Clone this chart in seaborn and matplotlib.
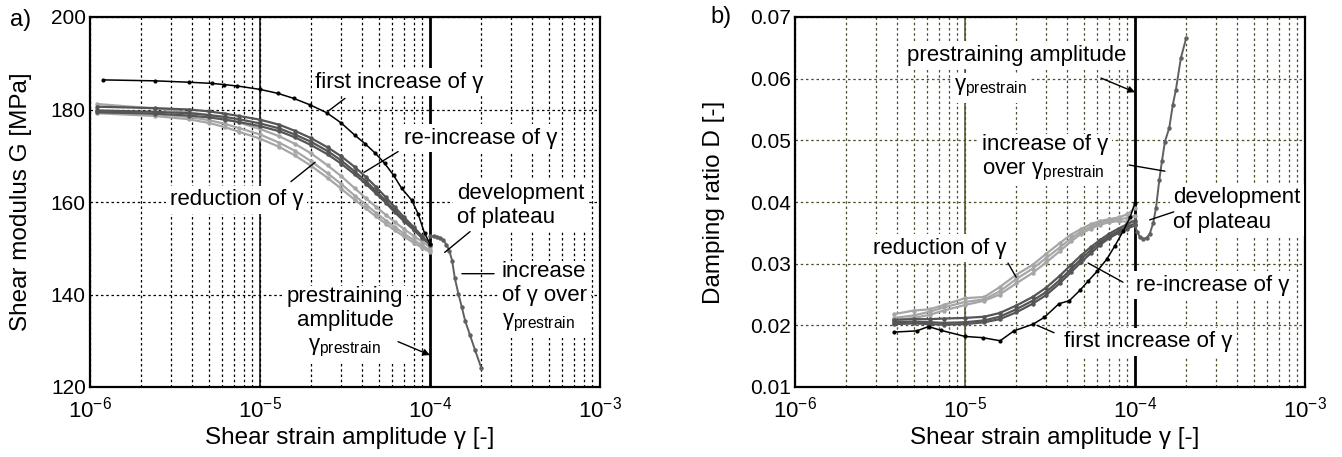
'''Shear modulus and damping ratio versus shear strain amplitude (prestrain test)'''
import numpy as np
import matplotlib
matplotlib.use('Agg')
import matplotlib.pyplot as plt
from matplotlib.ticker import LogLocator, FixedLocator, NullFormatter
import seaborn as sns

# ---- data ----
# a) shear modulus G [MPa]
strain_first_g = [1.2e-6, 2.4e-6, 3.8e-6, 5.2e-6, 6.1e-6, 7.3e-6, 1.0e-5, 1.27e-5,
                  1.58e-5, 1.97e-5, 2.47e-5, 3.0e-5, 3.6e-5, 4.15e-5, 4.75e-5,
                  5.4e-5, 6.1e-5, 6.8e-5, 7.8e-5, 8.5e-5, 9.3e-5, 1.0e-4]
g_first = [186.4, 186.2, 185.9, 185.65, 185.4, 185.1, 184.35, 183.5, 182.4, 181.0,
           179.3, 177.1, 174.5, 172.6, 170.6, 168.4, 165.8, 163.0, 160.4, 157.5,
           153.2, 151.0]

strain_band_g = [1.1e-6, 2.4e-6, 3.8e-6, 5.0e-6, 6.2e-6, 7.5e-6, 1.0e-5, 1.3e-5,
                 1.6e-5, 2.0e-5, 2.5e-5, 3.0e-5, 3.6e-5, 4.2e-5, 4.8e-5, 5.5e-5,
                 6.2e-5, 7.0e-5, 8.0e-5, 9.0e-5, 1.0e-4]
g_reinc = [
    [180.6, 180.3, 180.0, 179.6, 179.1, 178.6, 177.8, 176.7, 175.4, 173.8, 171.8,
     169.9, 167.6, 165.4, 163.3, 161.0, 158.9, 156.8, 154.6, 152.6, 151.0],
    [179.8, 179.5, 179.2, 178.8, 178.4, 177.9, 177.0, 175.9, 174.6, 173.0, 171.0,
     169.0, 166.6, 164.5, 162.4, 160.2, 158.2, 156.2, 154.2, 152.4, 150.9],
    [179.4, 179.1, 178.7, 178.3, 177.8, 177.3, 176.4, 175.3, 174.0, 172.3, 170.3,
     168.3, 166.0, 163.9, 161.9, 159.8, 157.8, 155.9, 154.0, 152.2, 150.8],
]
g_reduction = [
    [181.2, 180.2, 179.4, 178.8, 178.0, 177.2, 175.8, 174.2, 172.6, 170.5, 167.9,
     165.6, 163.0, 160.8, 159.0, 157.2, 155.7, 154.2, 152.7, 151.4, 150.3],
    [179.6, 179.0, 178.4, 177.7, 176.9, 176.0, 174.6, 172.8, 171.1, 168.8, 166.2,
     163.9, 161.4, 159.4, 157.7, 156.0, 154.6, 153.2, 151.8, 150.6, 149.6],
    [179.2, 178.6, 177.9, 177.1, 176.2, 175.2, 173.7, 171.9, 170.1, 167.8, 165.2,
     162.9, 160.5, 158.6, 156.9, 155.3, 153.9, 152.6, 151.2, 150.1, 149.2],
]
strain_over_g = [1.0e-4, 1.05e-4, 1.1e-4, 1.15e-4, 1.2e-4, 1.25e-4, 1.3e-4, 1.35e-4,
                 1.4e-4, 1.47e-4, 1.54e-4, 1.61e-4, 1.72e-4, 1.84e-4, 2.0e-4]
g_over = [152.6, 152.6, 152.5, 152.2, 151.7, 150.8, 149.4, 147.3, 143.5, 140.1,
          137.2, 134.3, 131.2, 128.0, 124.2]

# b) damping ratio D [-]
strain_first_d = [3.8e-6, 5.2e-6, 6.1e-6, 7.2e-6, 1.0e-5, 1.27e-5, 1.61e-5, 1.94e-5,
                  2.52e-5, 2.93e-5, 3.57e-5, 4.11e-5, 4.75e-5, 5.31e-5, 6.0e-5,
                  6.81e-5, 7.62e-5, 8.53e-5, 9.35e-5, 1.0e-4]
d_first = [0.0189, 0.0191, 0.0198, 0.0192, 0.0182, 0.0180, 0.0175, 0.0191, 0.0202,
           0.0213, 0.0235, 0.0240, 0.0257, 0.0272, 0.0288, 0.0307, 0.0329, 0.0353,
           0.0375, 0.0399]

strain_band_d = [3.8e-6, 5.0e-6, 6.2e-6, 7.5e-6, 1.0e-5, 1.3e-5, 1.6e-5, 2.0e-5,
                 2.5e-5, 3.0e-5, 3.6e-5, 4.2e-5, 4.8e-5, 5.5e-5, 6.2e-5, 7.0e-5,
                 8.0e-5, 9.0e-5, 1.0e-4]
d_reduction = [
    [0.0218, 0.0224, 0.0226, 0.0233, 0.0244, 0.0246, 0.0262, 0.0282, 0.0298, 0.0316,
     0.0333, 0.0347, 0.0356, 0.0364, 0.0369, 0.0372, 0.0375, 0.0380, 0.0390],
    [0.0212, 0.0216, 0.0222, 0.0229, 0.0238, 0.0242, 0.0255, 0.0275, 0.0292, 0.0309,
     0.0326, 0.0341, 0.0352, 0.0360, 0.0366, 0.0370, 0.0372, 0.0374, 0.0378],
    [0.0208, 0.0212, 0.0217, 0.0224, 0.0233, 0.0240, 0.0250, 0.0268, 0.0285, 0.0302,
     0.0320, 0.0336, 0.0348, 0.0357, 0.0363, 0.0367, 0.0369, 0.0368, 0.0370],
]
d_reinc = [
    [0.0209, 0.0210, 0.0210, 0.0211, 0.0212, 0.0214, 0.0220, 0.0232, 0.0246, 0.0261,
     0.0280, 0.0298, 0.0313, 0.0327, 0.0338, 0.0348, 0.0357, 0.0364, 0.0370],
    [0.0205, 0.0206, 0.0205, 0.0204, 0.0205, 0.0208, 0.0214, 0.0226, 0.0240, 0.0254,
     0.0273, 0.0291, 0.0307, 0.0322, 0.0334, 0.0344, 0.0353, 0.0360, 0.0365],
    [0.0202, 0.0203, 0.0202, 0.0201, 0.0202, 0.0205, 0.0210, 0.0221, 0.0235, 0.0249,
     0.0268, 0.0286, 0.0302, 0.0317, 0.0330, 0.0341, 0.0350, 0.0357, 0.0362],
]
strain_over_d = [1.0e-4, 1.03e-4, 1.07e-4, 1.12e-4, 1.17e-4, 1.22e-4, 1.28e-4, 1.33e-4,
                 1.39e-4, 1.44e-4, 1.50e-4, 1.59e-4, 1.67e-4, 1.74e-4, 1.86e-4, 2.0e-4]
d_over = [0.0362, 0.0352, 0.0343, 0.0340, 0.0342, 0.0348, 0.0366, 0.0391, 0.0436,
          0.0466, 0.0498, 0.0520, 0.0558, 0.0582, 0.0633, 0.0666]

xtick_vals = [1e-6, 1e-5, 1e-4, 1e-3]
xtick_labels = [r'$\mathregular{10^{-6}}$', r'$\mathregular{10^{-5}}$',
                r'$\mathregular{10^{-4}}$', r'$\mathregular{10^{-3}}$']
g_ticks = [120, 140, 160, 180, 200]
d_ticks = [0.01, 0.02, 0.03, 0.04, 0.05, 0.06, 0.07]
d_tick_labels = ['0.01', '0.02', '0.03', '0.04', '0.05', '0.06', '0.07']

PRE = r'γ$_{\mathregular{prestrain}}$'

# ---- style ----
sns.set_theme(style='white')
plt.rcParams['font.family'] = ['Liberation Sans', 'DejaVu Sans']
plt.rcParams['font.size'] = 15
plt.rcParams['text.color'] = 'black'
plt.rcParams['axes.labelcolor'] = 'black'
plt.rcParams['xtick.color'] = 'black'
plt.rcParams['ytick.color'] = 'black'

COL_FIRST = '#000000'
COL_REINC = '#555555'
COL_RED = '#a6a6a6'
COL_OVER = '#606060'

NOTE_SIZE = 16
LABEL_SIZE = 17.5


def curve(ax, x, y, color, lw=1.4, ms=3.2):
    sns.lineplot(x=x, y=y, ax=ax, color=color, linewidth=lw, marker='o',
                 markersize=ms, markeredgewidth=0, sort=False, estimator=None,
                 zorder=3)


def label(ax, txt, xy, ha='center'):
    ax.text(xy[0], xy[1], txt, ha=ha, va='center', fontsize=NOTE_SIZE, zorder=6,
            color='black', multialignment=ha,
            bbox=dict(facecolor='white', edgecolor='none', pad=2.5))


def leader(ax, p0, p1, arrow=False):
    style = '-|>' if arrow else '-'
    ax.annotate('', xy=p1, xytext=p0, zorder=7,
                arrowprops=dict(arrowstyle=style, color='black', lw=1.0,
                                mutation_scale=10, shrinkA=0, shrinkB=0))


def setup_axes(ax, grid_color):
    ax.set_xscale('log')
    ax.set_xlim(1e-6, 1e-3)
    ax.xaxis.set_major_locator(FixedLocator(xtick_vals))
    ax.set_xticklabels(xtick_labels)
    ax.xaxis.set_minor_locator(LogLocator(base=10, subs=np.arange(2, 10)))
    ax.xaxis.set_minor_formatter(NullFormatter())
    ax.grid(True, which='both', axis='x', color=grid_color, linestyle=(0, (2, 2.2)),
            linewidth=0.9)
    ax.grid(True, which='major', axis='y', color=grid_color, linestyle=(0, (2, 2.2)),
            linewidth=0.9)
    ax.set_axisbelow(True)
    ax.tick_params(axis='x', which='both', length=0, pad=7, labelsize=16)
    ax.tick_params(axis='y', which='both', direction='in', pad=3, labelsize=15)
    ax.tick_params(axis='y', which='major', length=4)
    ax.tick_params(axis='y', which='minor', length=3)
    for sp in ax.spines.values():
        sp.set_linewidth(1.6)
        sp.set_color('black')
    ax.axvline(1e-5, color=grid_color, lw=1.1, zorder=2)
    ax.axvline(1e-4, color='black', lw=2.0, zorder=2)


fig = plt.figure(figsize=(13.42, 4.57), dpi=100)
ax1 = fig.add_axes([90 / 1342, 70 / 457, 510 / 1342, 370 / 457])
ax2 = fig.add_axes([795 / 1342, 70 / 457, 510 / 1342, 370 / 457])

# ---- a) shear modulus ----
setup_axes(ax1, 'black')
ax1.set_ylim(120, 200)
ax1.yaxis.set_major_locator(FixedLocator(g_ticks))
ax1.yaxis.set_minor_locator(FixedLocator([130, 150, 170, 190]))

for g in g_reduction:
    curve(ax1, strain_band_g, g, COL_RED, lw=1.6)
for g in g_reinc:
    curve(ax1, strain_band_g, g, COL_REINC, lw=1.6)
curve(ax1, strain_over_g, g_over, COL_OVER, lw=1.4)
curve(ax1, strain_first_g, g_first, COL_FIRST, lw=1.1, ms=3.0)

label(ax1, 'first increase of γ', (6.6e-5, 185.9))
leader(ax1, (2.51e-5, 179.6), (3.16e-5, 182.4))
label(ax1, 're-increase of γ', (2.0e-4, 173.8))
leader(ax1, (4.09e-5, 166.4), (6.49e-5, 170.9))
label(ax1, 'reduction of γ', (7.3e-6, 160.5))
leader(ax1, (1.52e-5, 164.4), (2.11e-5, 168.6))
label(ax1, 'development\nof plateau', (1.44e-4, 159.2), ha='left')
leader(ax1, (1.22e-4, 149.1), (1.72e-4, 153.6))
label(ax1, 'increase\nof γ over\n' + PRE, (2.65e-4, 139.3), ha='left')
leader(ax1, (1.54e-4, 144.5), (2.38e-4, 144.5))
label(ax1, 'prestraining\namplitude\n' + PRE, (3.16e-5, 134.0))
leader(ax1, (6.49e-5, 129.8), (1.0e-4, 126.9), arrow=True)

ax1.set_xlabel('Shear strain amplitude γ [-]', fontsize=LABEL_SIZE)
ax1.set_ylabel('Shear modulus G [MPa]', fontsize=LABEL_SIZE)
ax1.xaxis.set_label_coords(0.51, -0.108)
ax1.yaxis.set_label_coords(-0.114, 0.5)

# ---- b) damping ratio ----
setup_axes(ax2, '#4d4d26')
ax2.set_ylim(0.01, 0.07)
ax2.yaxis.set_major_locator(FixedLocator(d_ticks))
ax2.set_yticklabels(d_tick_labels)

for d in d_reduction:
    curve(ax2, strain_band_d, d, COL_RED, lw=1.6)
for d in d_reinc:
    curve(ax2, strain_band_d, d, COL_REINC, lw=1.6)
curve(ax2, strain_over_d, d_over, COL_OVER, lw=1.4)
curve(ax2, strain_first_d, d_first, COL_FIRST, lw=1.1, ms=3.0)

label(ax2, 'prestraining amplitude', (2.02e-5, 0.0638))
label(ax2, PRE, (1.42e-5, 0.0585))
leader(ax2, (6.31e-5, 0.0601), (1.0e-4, 0.0578), arrow=True)
label(ax2, 'increase of γ\nover ' + PRE, (1.26e-5, 0.0471), ha='left')
leader(ax2, (9.23e-5, 0.0460), (1.5e-4, 0.0450))
label(ax2, 'development\nof plateau', (1.68e-4, 0.0387), ha='left')
leader(ax2, (1.22e-4, 0.0371), (1.69e-4, 0.0384))
label(ax2, 'reduction of γ', (7.1e-6, 0.0325))
leader(ax2, (1.79e-5, 0.0301), (2.0e-5, 0.0278))
label(ax2, 're-increase of γ', (2.88e-4, 0.0265))
leader(ax2, (5.3e-5, 0.0301), (8.49e-5, 0.0270))
label(ax2, 'first increase of γ', (1.19e-4, 0.0173))
leader(ax2, (2.65e-5, 0.0200), (3.34e-5, 0.0188))

ax2.set_xlabel('Shear strain amplitude γ [-]', fontsize=LABEL_SIZE)
ax2.set_ylabel('Damping ratio D [-]', fontsize=LABEL_SIZE)
ax2.xaxis.set_label_coords(0.51, -0.108)
ax2.yaxis.set_label_coords(-0.137, 0.5)

fig.text(10 / 1342, 1 - 20 / 457, 'a)', ha='left', va='center', fontsize=17)
fig.text(710 / 1342, 1 - 17 / 457, 'b)', ha='left', va='center', fontsize=17)

fig.savefig('out.png', dpi=100)
